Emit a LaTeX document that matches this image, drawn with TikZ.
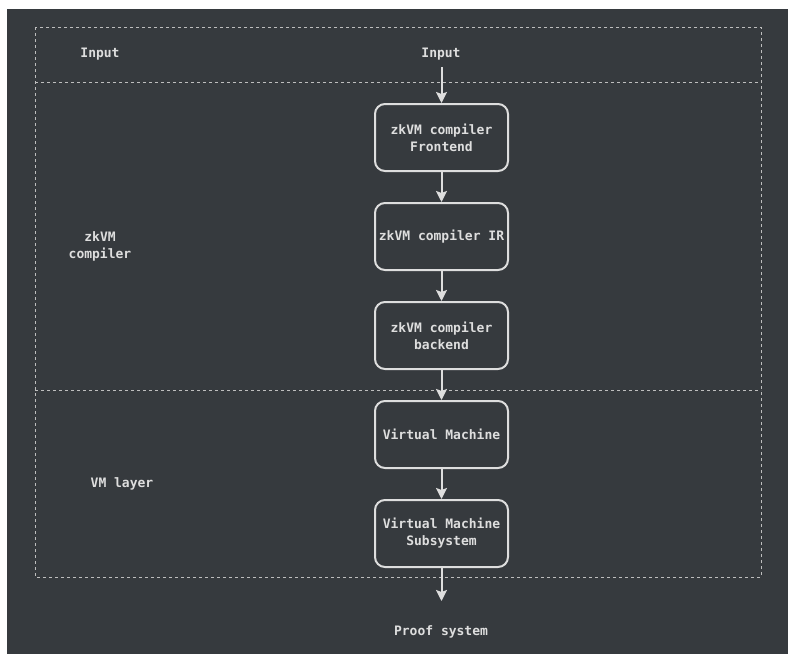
\documentclass[tikz,border=0pt]{standalone}
\usepackage{fontspec}
\setmainfont{DejaVu Sans Mono}
\usetikzlibrary{arrows.meta}
\definecolor{bgdark}{RGB}{54,58,62}
\definecolor{fg}{RGB}{222,222,222}
\definecolor{dashc}{RGB}{190,190,190}
\tikzset{
  lbl/.style={text=fg, font=\fontsize{13}{17}\selectfont\bfseries, align=center, inner sep=0pt},
  stepbox/.style={draw=fg, line width=2pt, rounded corners=10pt, minimum width=133pt, minimum height=67pt, text=fg, font=\fontsize{13}{17}\selectfont\bfseries, align=center, inner sep=0pt},
  frame/.style={draw=dashc, line width=1pt, dash pattern=on 3pt off 3pt},
  flow/.style={draw=fg, line width=2pt, -{Stealth[length=11pt, width=11pt, inset=2pt]}}
}
\begin{document}
\begin{tikzpicture}[x=1pt, y=-1pt]
\useasboundingbox (0,0) rectangle (795,659);
\fill[white] (0,0) rectangle (795,659);
\fill[bgdark] (7,9) rectangle (788,654);
% frame
\draw[frame] (35,27) rectangle (761,577);
\draw[frame] (35,82) -- (761,82);
\draw[frame] (35,390) -- (761,390);
% left labels
\node[lbl] (linput) at (100,54) {Input};
\node[lbl] (lcomp) at (100,246) {zkVM\\compiler};
\node[lbl] (lvm) at (122,484) {VM layer};
% flow
\node[lbl] (input) at (441,54) {Input};
\node[stepbox] (fe) at (441.5,137.5) {zkVM compiler\\Frontend};
\node[stepbox] (ir) at (441.5,236.5) {zkVM compiler IR};
\node[stepbox] (be) at (441.5,335.5) {zkVM compiler\\backend};
\node[stepbox] (vm) at (441.5,434.5) {Virtual Machine};
\node[stepbox] (ss) at (441.5,533.5) {Virtual Machine\\Subsystem};
\node[lbl] (proof) at (441,632) {Proof system};
\coordinate (inend) at (441.5,67);
\coordinate (proofend) at (441.5,601);
\draw[flow] (inend) -- (fe.north);
\draw[flow] (fe) -- (ir);
\draw[flow] (ir) -- (be);
\draw[flow] (be) -- (vm);
\draw[flow] (vm) -- (ss);
\draw[flow] (ss.south) -- (proofend);
\end{tikzpicture}
\end{document}
